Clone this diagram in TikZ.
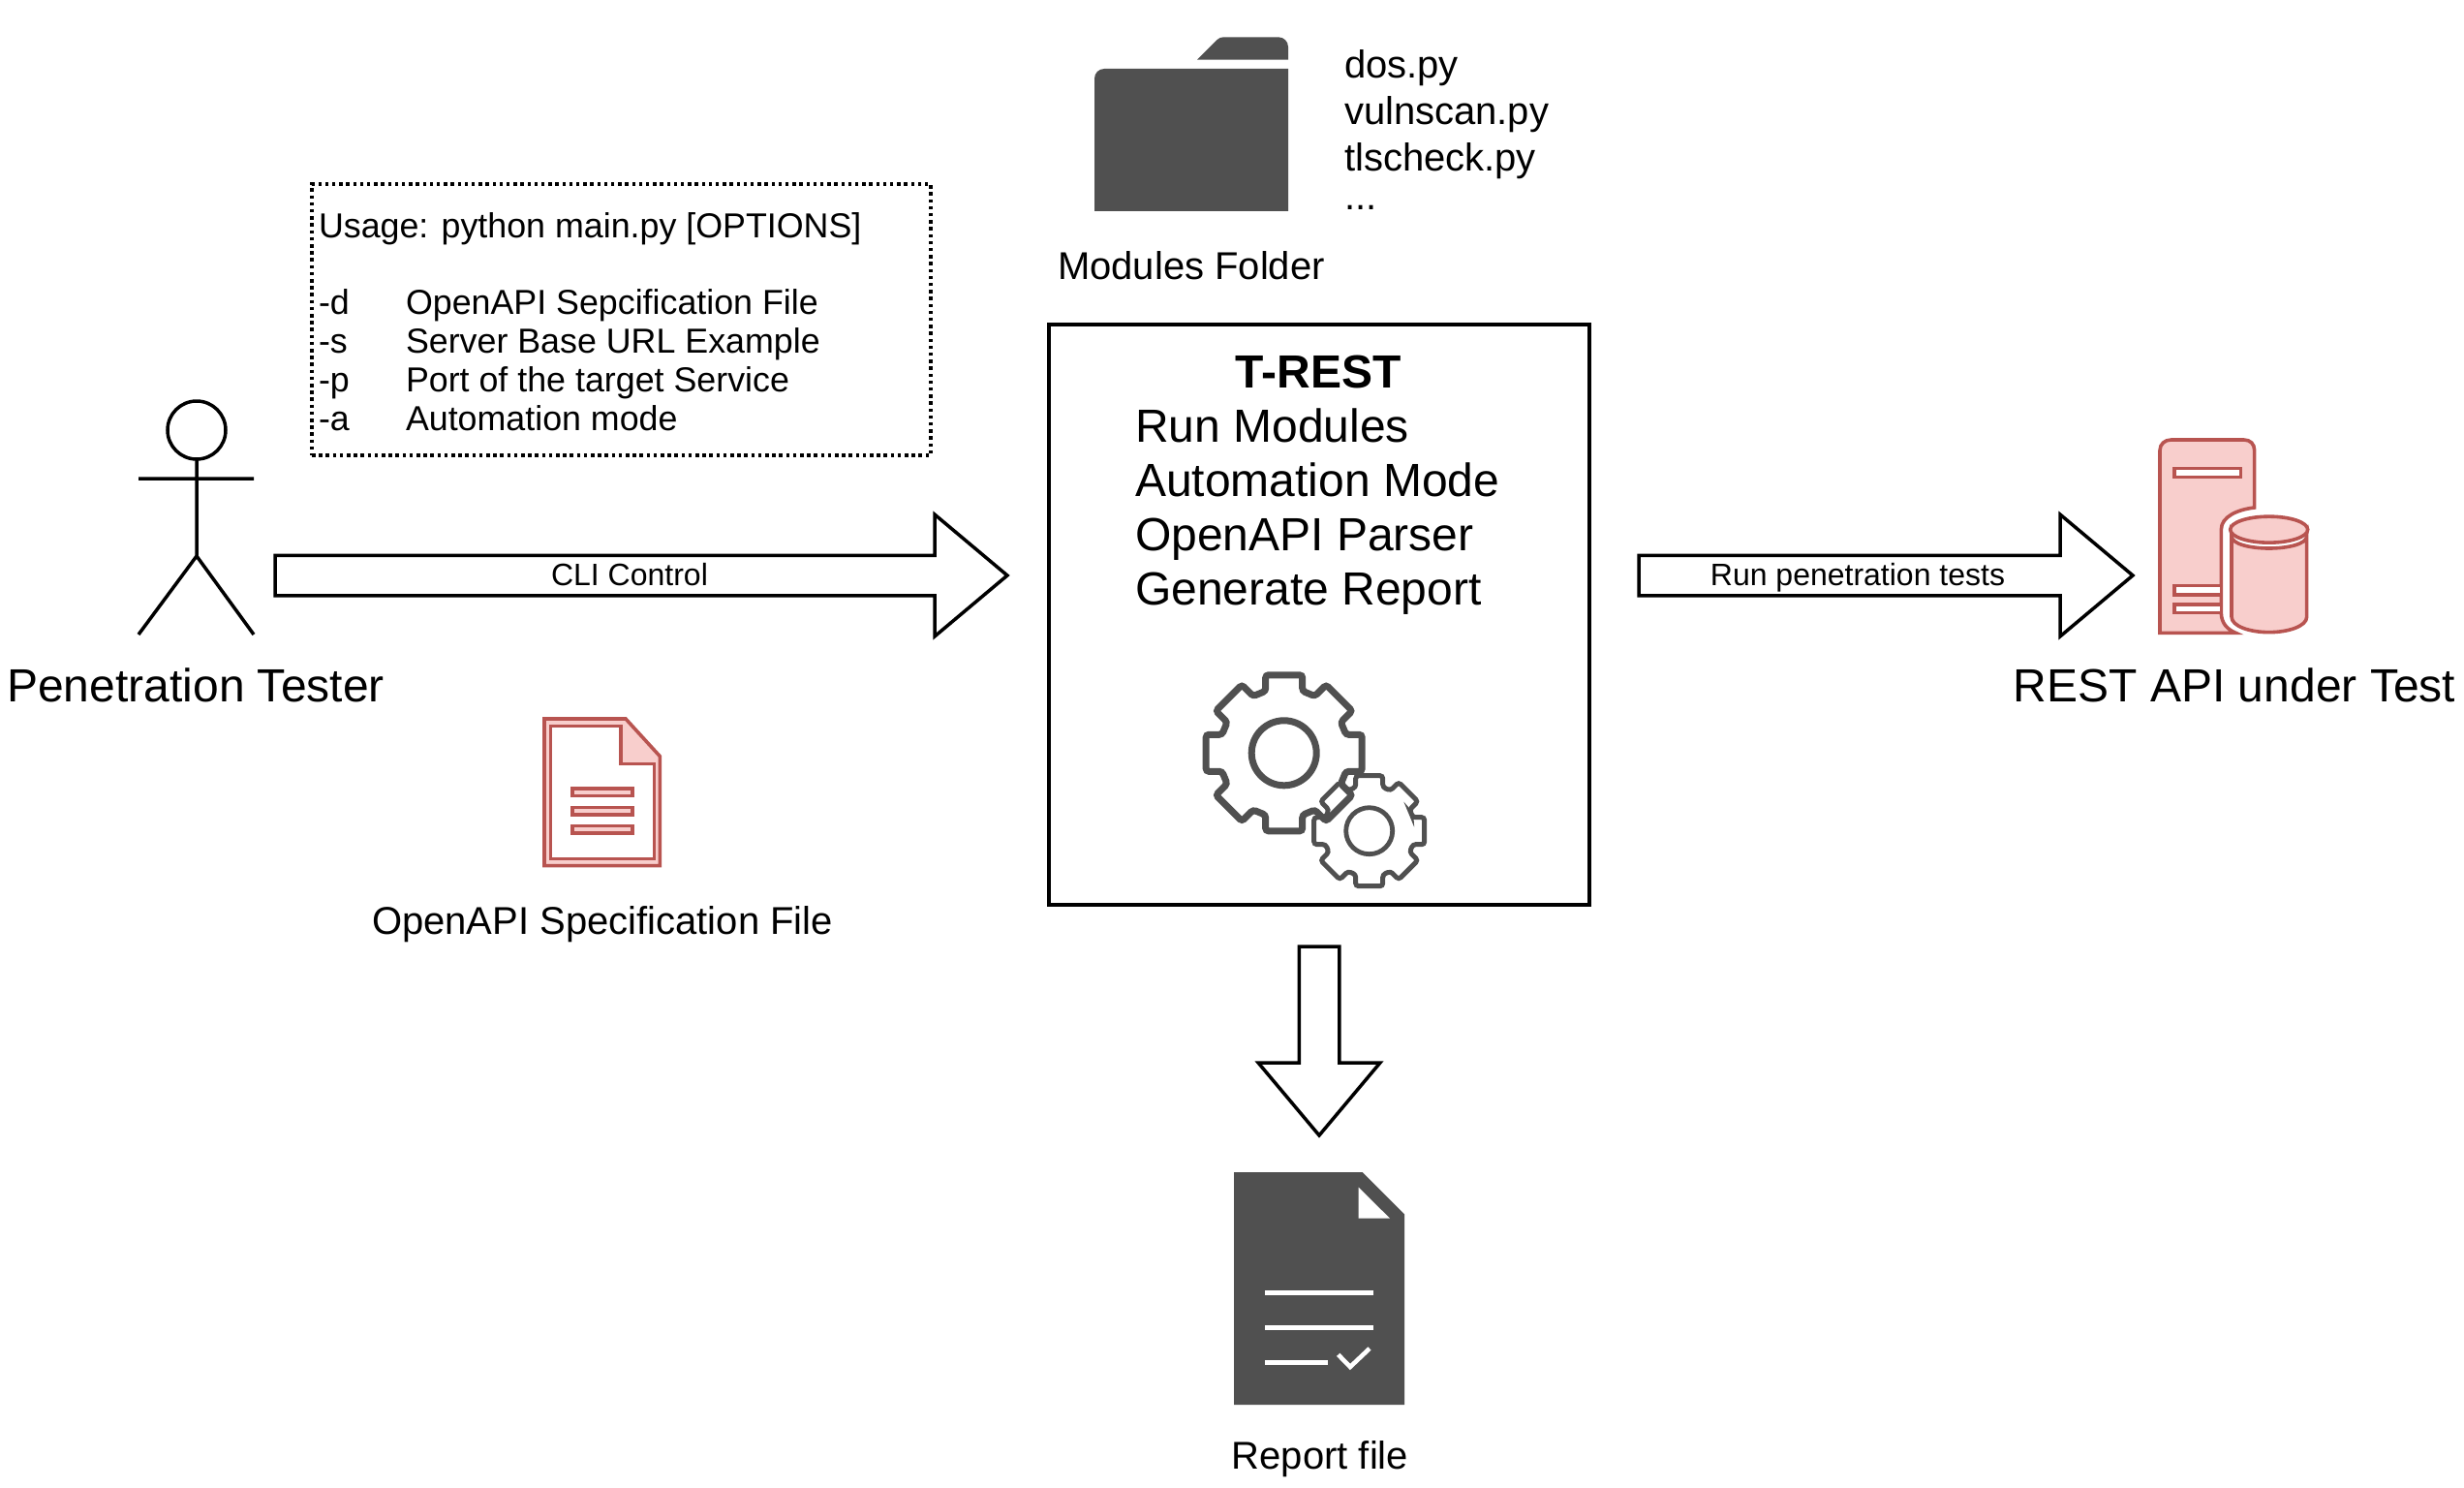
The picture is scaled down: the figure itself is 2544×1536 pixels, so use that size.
\documentclass[tikz,border=0pt]{standalone}
\usepackage{fontspec}
\setmainfont{Liberation Sans}
\usetikzlibrary{shapes.arrows}
\definecolor{iconred}{HTML}{B85450}
\definecolor{iconpink}{HTML}{F8CECC}
\definecolor{icongrey}{HTML}{505050}
\tikzset{
  txtM/.style={inner sep=0pt,outer sep=0pt,font=\fontsize{40}{48}\selectfont},
  txtU/.style={inner sep=0pt,outer sep=0pt,font=\fontsize{35.8}{40}\selectfont},
  txtS/.style={inner sep=0pt,outer sep=0pt,font=\fontsize{32}{40}\selectfont},
  txtL/.style={inner sep=0pt,outer sep=0pt,font=\fontsize{48}{56}\selectfont},
  blockarrow/.style={draw=black,fill=white,line width=3.5pt,single arrow,inner sep=0pt,outer sep=0pt,
    single arrow head extend=42pt,single arrow tip angle=80,line join=miter},
  actor/.style={draw=black,line width=3.5pt},
  gearline/.style={draw=icongrey,rounded corners=3pt},
  redline/.style={draw=iconred,line width=3.6pt},
  redfill/.style={redline,fill=iconpink},
  thumb/.style={draw=white,line width=4.6pt},
}
\newcommand{\gearat}[6]{%
  \pgfmathsetmacro{\gearmid}{#4*cos(22.5)+#5*sin(22.5)}%
  \draw[gearline,line width=#6]
    ([shift={(#1,#2)},rotate=22.5]\gearmid,0)
    \foreach \a in {0,45,...,315}{
      -- ([shift={(#1,#2)},rotate=-\a]#4,-#5)
      -- ([shift={(#1,#2)},rotate=-\a]#3,-#5)
      -- ([shift={(#1,#2)},rotate=-\a]#3,#5)
      -- ([shift={(#1,#2)},rotate=-\a]#4,#5)
    } -- cycle;
}
\begin{document}
\begin{tikzpicture}[x=1pt,y=-1pt]
\useasboundingbox (0,0) rectangle (2544,1536);
\fill[white] (0,0) rectangle (2544,1536);

% tester
\node[actor,circle,minimum size=60pt,inner sep=0pt,outer sep=0pt] (head) at (203,444) {};
\coordinate (hip) at (203,574);
\coordinate (armL) at (143,494);
\coordinate (armR) at (262,494);
\coordinate (legL) at (143,655);
\coordinate (legR) at (262,655);
\draw[actor] (head.south) -- (hip) (armL) -- (armR) (legL) -- (hip) -- (legR);
\node[txtL,anchor=base] (tester) at (202,724.5) {Penetration Tester};

% usage box
\node[draw=black,line width=3.5pt,dash pattern=on 3.5pt off 3.7pt,minimum width=639pt,minimum height=280pt,inner sep=0pt,outer sep=0pt,anchor=north west] (usagebox) at (322,190) {};
\node[txtU,anchor=base west] (usage) at (329,245) {Usage: python main.py [OPTIONS]};
\node[txtU,anchor=base west] (od) at (329,324) {-d};
\node[txtU,anchor=base west] (os) at (329,364) {-s};
\node[txtU,anchor=base west] (op) at (329,404) {-p};
\node[txtU,anchor=base west] (oa) at (329,444) {-a};
\node[txtU,anchor=base west] (dd) at (419,324) {OpenAPI Sepcification File};
\node[txtU,anchor=base west] (ds) at (419,364) {Server Base URL Example};
\node[txtU,anchor=base west] (dp) at (419,404) {Port of the target Service};
\node[txtU,anchor=base west] (da) at (419,444) {Automation mode};

% block arrows
\node[blockarrow,minimum height=756pt,text height=38pt,text depth=0pt,anchor=tail] (cli) at (284,594) {};
\node[txtS,anchor=base] (clil) at (650,604) {CLI Control};
\node[blockarrow,minimum height=510pt,text height=38pt,text depth=0pt,anchor=tail] (run) at (1692,594) {};
\node[txtS,anchor=base] (runl) at (1918,604) {Run penetration tests};
\node[blockarrow,minimum height=195pt,text width=38pt,anchor=tail,shape border rotate=270] (down) at (1362,977) {};

% main box
\node[draw=black,line width=3.5pt,minimum width=558pt,minimum height=599pt,inner sep=0pt,outer sep=0pt,anchor=north west] (trest) at (1083,335) {};
\node[txtL,anchor=base,font=\fontsize{48}{56}\bfseries\selectfont] (ttl) at (1361,400) {T-REST};
\node[txtL,anchor=base west] (l1) at (1172,456) {Run Modules};
\node[txtL,anchor=base west] (l2) at (1172,512) {Automation Mode};
\node[txtL,anchor=base west] (l3) at (1172,568) {OpenAPI Parser};
\node[txtL,anchor=base west] (l4) at (1172,624) {Generate Report};

% gears
\gearat{1325.7}{777.3}{80.5}{64}{19}{7pt}
\draw[icongrey,line width=7pt] (1325.7,777.3) circle (33.5);
\gearat{1413.7}{857.7}{57}{45}{14}{5pt}
\draw[icongrey,line width=4.8pt] (1413.7,857.7) circle (24);

% modules folder
\begin{scope}[shift={(1100,20)},x=0.33333pt,y=-0.33333pt]
  \fill[icongrey] (90,594) -- (90,183) arc[start angle=180,end angle=90,x radius=10pt,y radius=10pt] -- (690,153) -- (690,594) -- cycle;
  \fill[icongrey] (408,125) -- (470,63) .. controls (476,57) and (482,55) .. (490,55) -- (660,55) arc[start angle=90,end angle=0,x radius=10pt,y radius=10pt] -- (690,125) -- cycle;
\end{scope}
\node[txtM,anchor=base west] (m1) at (1388,81) {dos.py};
\node[txtM,anchor=base west] (m2) at (1388,129) {vulnscan.py};
\node[txtM,anchor=base west] (m3) at (1388,177) {tlscheck.py};
\node[txtM,anchor=base west] (m4) at (1388,216) {...};
\node[txtM,anchor=base] (mf) at (1230,288) {Modules Folder};

% spec file icon
\begin{scope}[shift={(530,720)},x=0.33333pt,y=-0.33333pt]
  \draw[redfill,line join=miter] (96,66) -- (348,66) -- (454,182) -- (454,521) -- (96,521) -- cycle;
  \draw[redline,fill=white,line join=miter] (115,88) -- (333,88) -- (333,205) -- (436,205) -- (436,500) -- (115,500) -- cycle;
  \draw[redfill] (183,282) rectangle (369,305);
  \draw[redfill] (183,340) rectangle (369,363);
  \draw[redfill] (183,398) rectangle (369,420);
\end{scope}
\node[txtM,anchor=base] (spec) at (622,964) {OpenAPI Specification File};

% report icon
\begin{scope}[shift={(1260,1200)},x=0.33333pt,y=-0.33333pt]
  \fill[icongrey] (42,30) -- (440,30) -- (570,160) -- (570,750) -- (42,750) -- cycle;
  \fill[white] (428,77) -- (525,173) -- (428,173) -- cycle;
  \draw[thumb] (138,403) -- (474,403) (138,511) -- (474,511) (138,619) -- (334,619);
  \draw[thumb,line join=miter] (365,595) -- (402,633) -- (462,576);
\end{scope}
\node[txtM,anchor=base] (rep) at (1363,1516) {Report file};

% server icon
\begin{scope}[shift={(2200,430)},x=0.33333pt,y=-0.33333pt]
  \draw[redfill,line join=miter] (90,670) -- (90,105) .. controls (90,85) and (105,72) .. (125,72) -- (350,72) .. controls (370,72) and (383,85) .. (383,105) -- (383,282) .. controls (330,288) and (280,310) .. (280,350) -- (280,608) .. controls (280,640) and (300,660) .. (325,670) -- cycle;
  \draw[redline,fill=white] (135,160) rectangle (340,188);
  \draw[redline,fill=white] (135,524) rectangle (280,552);
  \draw[redline,fill=white] (135,582) rectangle (280,608);
  \draw[redfill] (312,370) -- (312,620) .. controls (312,650) and (370,668) .. (428,668) .. controls (486,668) and (545,650) .. (545,620) -- (545,370) .. controls (545,395) and (486,408) .. (428,408) .. controls (370,408) and (312,395) .. (312,370) -- cycle;
  \draw[redfill] (428,350) ellipse[x radius=40pt,y radius=13.5pt];
\end{scope}
\node[txtL,anchor=base] (api) at (2307,724.5) {REST API under Test};
\end{tikzpicture}
\end{document}
